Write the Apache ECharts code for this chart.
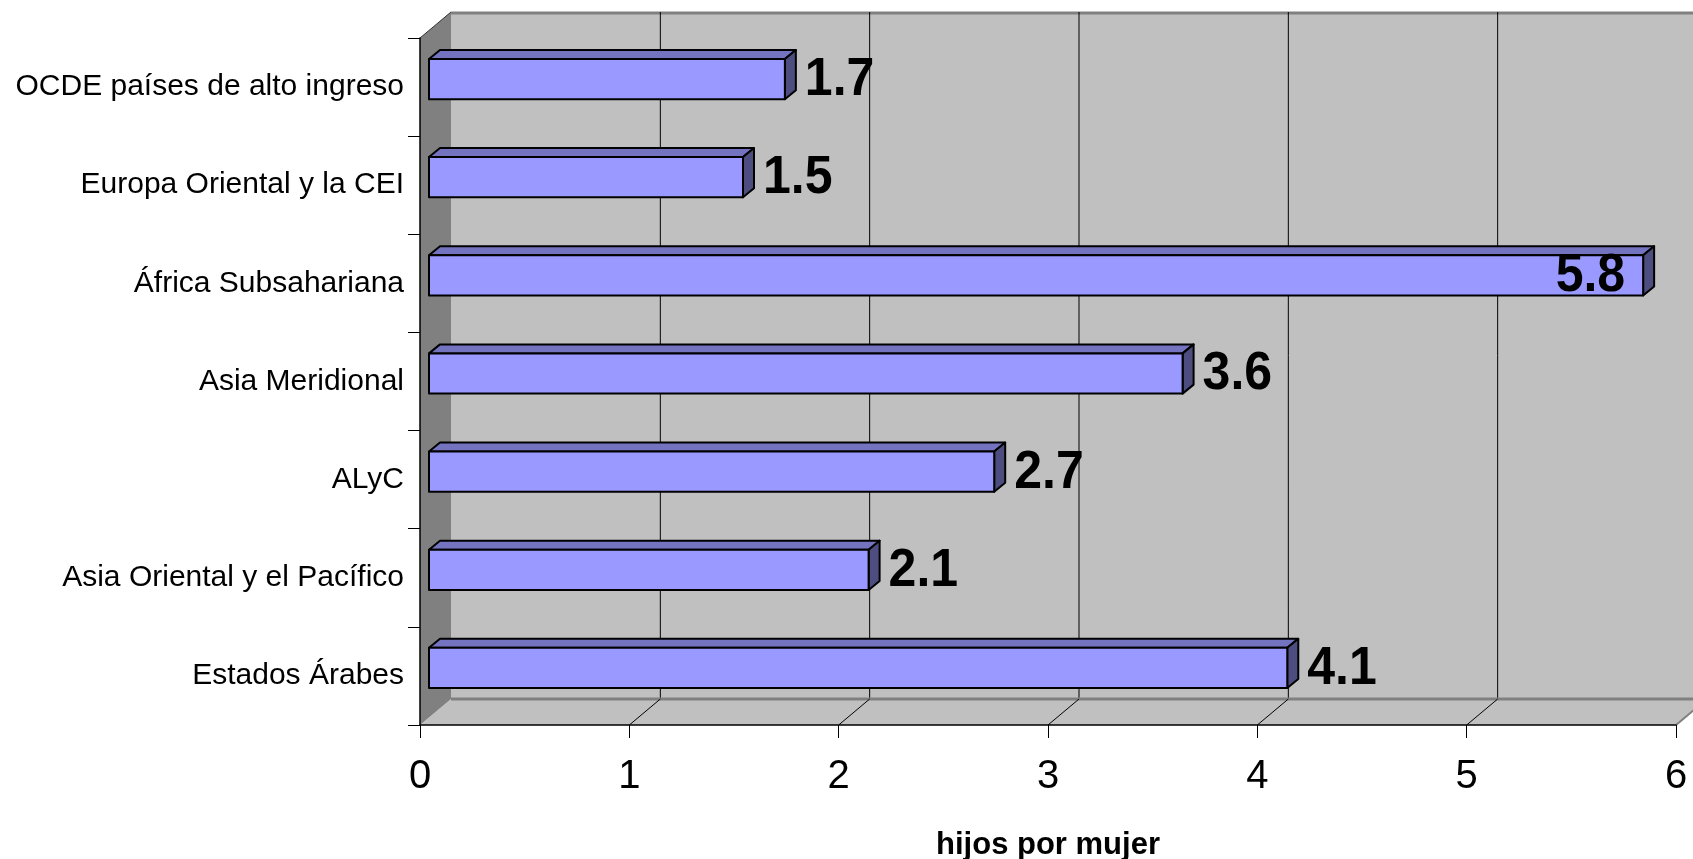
<!DOCTYPE html>
<html><head><meta charset="utf-8">
<script src="https://cdn.jsdelivr.net/npm/echarts@6/dist/echarts.min.js"></script>
<style>html,body{margin:0;padding:0;background:#fff}#c{width:1693px;height:859px}</style>
</head><body><div id="c"></div>
<script>
// ---- data ----
const categories = ['OCDE países de alto ingreso', 'Europa Oriental y la CEI', 'África Subsahariana', 'Asia Meridional', 'ALyC', 'Asia Oriental y el Pacífico', 'Estados Árabes'];
const values = [1.7, 1.5, 5.8, 3.6, 2.7, 2.1, 4.1];
const axisTicks = [0, 1, 2, 3, 4, 5, 6];
const axisTitle = 'hijos por mujer';

// ---- style ----
const FONT = "'Liberation Sans', Arial, sans-serif";
const WALL_DX = 31, WALL_DY = -26;   // 3D wall depth
const BAR_OX = 9, BAR_OY = -8;       // bar position within depth
const BAR_DX = 11, BAR_DY = -9;      // bar depth

const chart = echarts.init(document.getElementById('c'), null, {renderer: 'canvas'});

function renderWalls(params, api) {
  const cs = params.coordSys;
  const left = cs.x, top = cs.y, bottom = cs.y + cs.height;
  const xOf = v => api.coord([v, 0])[0];
  const right = xOf(axisTicks[axisTicks.length - 1]);
  const ch = [];
  // back wall
  ch.push({type: 'rect', shape: {x: left + WALL_DX, y: top + WALL_DY, width: right - left, height: bottom - top},
    style: {fill: '#C0C0C0', stroke: null}});
  ch.push({type: 'line', shape: {x1: left + WALL_DX, y1: top + WALL_DY + 1, x2: right + WALL_DX, y2: top + WALL_DY + 1},
    style: {stroke: '#808080', lineWidth: 3}});
  // floor
  ch.push({type: 'polygon', shape: {points: [[left, bottom], [left + WALL_DX, bottom + WALL_DY], [right + WALL_DX, bottom + WALL_DY], [right, bottom]]},
    style: {fill: '#C0C0C0'}});
  // side wall
  ch.push({type: 'polygon', shape: {points: [[left, top], [left + WALL_DX, top + WALL_DY], [left + WALL_DX, bottom + WALL_DY], [left, bottom]]},
    style: {fill: '#808080'}});
  // gridlines on back wall and floor
  axisTicks.forEach((t, i) => {
    if (i === 0) return;
    const xb = xOf(t) + WALL_DX;
    ch.push({type: 'line', shape: {x1: xb, y1: top + WALL_DY, x2: xb, y2: bottom + WALL_DY}, style: {stroke: '#000', lineWidth: 1}});
  });
  ch.push({type: 'line', shape: {x1: left + WALL_DX, y1: bottom + WALL_DY, x2: right + WALL_DX, y2: bottom + WALL_DY},
    style: {stroke: '#808080', lineWidth: 3}});
  axisTicks.forEach((t, i) => {
    if (i === 0) return;
    const last = i === axisTicks.length - 1;
    const xf = xOf(t);
    ch.push({type: 'line', shape: {x1: xf + WALL_DX, y1: bottom + WALL_DY, x2: xf, y2: bottom},
      style: {stroke: last ? '#808080' : '#000', lineWidth: last ? 2 : 1}});
  });
  ch.push({type: 'line', shape: {x1: left, y1: top, x2: left + WALL_DX, y2: top + WALL_DY}, style: {stroke: '#333', lineWidth: 1}});
  return {type: 'group', children: ch};
}

function renderBar(params, api) {
  const cs = params.coordSys;
  const v = api.value(0), idx = api.value(1);
  const p0 = api.coord([0, idx]);
  const p1 = api.coord([v, idx]);
  const band = api.size([0, 1])[1];
  const h = band * 0.41;
  const x0 = p0[0] + BAR_OX, x1 = p1[0] + BAR_OX;
  const yc = p0[1] + BAR_OY;
  const yt = yc - h / 2, yb = yc + h / 2;
  const stroke = {stroke: '#000', lineWidth: 2, lineJoin: 'round'};
  const ch = [
    {type: 'polygon', shape: {points: [[x0, yt], [x1, yt], [x1 + BAR_DX, yt + BAR_DY], [x0 + BAR_DX, yt + BAR_DY]]},
      style: Object.assign({fill: '#7373C0'}, stroke)},
    {type: 'polygon', shape: {points: [[x1, yt], [x1 + BAR_DX, yt + BAR_DY], [x1 + BAR_DX, yb + BAR_DY], [x1, yb]]},
      style: Object.assign({fill: '#4D4D80'}, stroke)},
    {type: 'rect', shape: {x: x0, y: yt, width: x1 - x0, height: h},
      style: Object.assign({fill: '#9999FF'}, stroke)}
  ];
  const txt = v.toFixed(1);
  const labelW = 72;
  const inside = x1 + BAR_DX + 10 + labelW > cs.x + cs.width;
  ch.push({type: 'text', x: inside ? x1 - 18 : x1 + BAR_DX + 9, y: yc + 1, scaleY: 1.08,
    style: {text: txt, fill: '#000', font: 'bold 50px ' + FONT, textAlign: inside ? 'right' : 'left', textVerticalAlign: 'middle'}});
  return {type: 'group', children: ch};
}

chart.setOption({
  animation: false,
  backgroundColor: '#fff',
  grid: {left: 420, right: 17, top: 38, bottom: 134, containLabel: false, outerBoundsMode: 'none'},
  xAxis: {
    type: 'value', min: axisTicks[0], max: axisTicks[axisTicks.length - 1], interval: 1, z: 10,
    axisLine: {show: true, lineStyle: {color: '#000', width: 1.5}},
    axisTick: {show: true, length: 13, lineStyle: {color: '#000', width: 1}},
    axisLabel: {fontSize: 40, color: '#000', fontFamily: FONT, margin: 32},
    splitLine: {show: false},
    name: axisTitle, nameLocation: 'middle', nameGap: 105,
    nameTextStyle: {fontSize: 31, fontWeight: 'bold', color: '#000', fontFamily: FONT}
  },
  yAxis: {
    type: 'category', data: categories, inverse: true, z: 10,
    axisLine: {show: true, lineStyle: {color: '#000', width: 1.5}},
    axisTick: {show: true, length: 12, lineStyle: {color: '#000', width: 1}},
    axisLabel: {fontSize: 30, color: '#000', fontFamily: FONT, margin: 16},
    splitLine: {show: false}
  },
  series: [
    {type: 'custom', name: 'walls', z: 0, clip: false, silent: true, renderItem: renderWalls, data: [[0, 0]], encode: {x: 0, y: 1}},
    {type: 'custom', name: 'bars', z: 2, clip: false, renderItem: renderBar,
      data: values.map((v, i) => [v, i]), encode: {x: 0, y: 1}}
  ]
});
</script></body></html>
